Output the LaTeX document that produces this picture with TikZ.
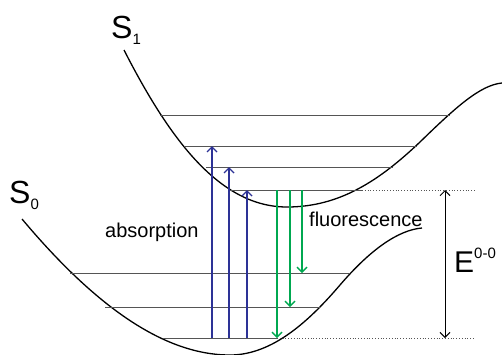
\documentclass[tikz,border=0pt]{standalone}
\usepackage{fontspec}
\setmainfont{Liberation Sans}
\usetikzlibrary{arrows.meta}
\definecolor{AbsBlue}{RGB}{45,50,150}
\definecolor{FluoGreen}{RGB}{0,168,80}
\definecolor{LevelGrey}{RGB}{85,85,85}

\begin{document}
\begin{tikzpicture}[x=1pt,y=-1pt,
    pes/.style={line width=1.3pt, black},
    level/.style={line width=0.9pt, LevelGrey},
    zerolevel/.style={line width=0.8pt, LevelGrey, dotted},
    absarrow/.style={line width=1.4pt, AbsBlue, -{Straight Barb[length=5pt,width=10pt]}},
    fluoarrow/.style={line width=1.4pt, FluoGreen, -{Straight Barb[length=5pt,width=10pt]}},
    gaparrow/.style={line width=1pt, black, {Straight Barb[length=5pt,width=10pt]}-{Straight Barb[length=5pt,width=10pt]}},
    lbl/.style={font=\fontsize{20}{24}\selectfont}]
    \useasboundingbox (0,0) rectangle (502,354);

    % potential energy curves
    \draw[pes] (124,50) .. controls (170,140) and (220,207) .. (287,207)
        .. controls (340,207) and (380,180) .. (420,142)
        .. controls (455,108) and (480,85) .. (502,83);
    \draw[pes] (22,219) .. controls (90,300) and (160,355) .. (230,355)
        .. controls (273,355) and (310,320) .. (340,285)
        .. controls (370,250) and (398,230) .. (422,228);

    % vibrational levels S1
    \draw[level] (160,115) -- (450,115);
    \draw[level] (184,146) -- (417,146);
    \draw[level] (206,167) -- (393,167);
    \draw[level] (230,190) -- (362,190);
    % vibrational levels S0
    \draw[level] (70,273) -- (350,273);
    \draw[level] (105,307) -- (320,307);
    \draw[level] (163,338) -- (277,338);
    \draw[zerolevel] (362,190) -- (475,190);
    \draw[zerolevel] (277,338) -- (475,338);

    % arrow end points
    \coordinate (a1) at (212,338);
    \coordinate (a1t) at (212,146);
    \coordinate (a2) at (229,338);
    \coordinate (a2t) at (229,167);
    \coordinate (a3) at (247,338);
    \coordinate (a3t) at (247,190);
    \coordinate (f1) at (277,190);
    \coordinate (f1t) at (277,338);
    \coordinate (f2) at (290,190);
    \coordinate (f2t) at (290,307);
    \coordinate (f3) at (302,190);
    \coordinate (f3t) at (302,273);
    \coordinate (e0) at (445,190);
    \coordinate (e1) at (445,338);

    \draw[absarrow] (a1) -- (a1t);
    \draw[absarrow] (a2) -- (a2t);
    \draw[absarrow] (a3) -- (a3t);
    \draw[fluoarrow] (f1) -- (f1t);
    \draw[fluoarrow] (f2) -- (f2t);
    \draw[fluoarrow] (f3) -- (f3t);
    \draw[gaparrow] (e0) -- (e1);

    % labels
    \node[anchor=base west, inner sep=0pt] (s1) at (111,38) {\fontsize{32}{36}\selectfont S\raisebox{-6pt}{\fontsize{15}{18}\selectfont 1}};
    \node[anchor=base west, inner sep=0pt] (s0) at (9,203) {\fontsize{32}{36}\selectfont S\raisebox{-6pt}{\fontsize{15}{18}\selectfont 0}};
    \node[lbl, anchor=base west, inner sep=0pt] (abs) at (105,237) {absorption};
    \node[lbl, anchor=base west, inner sep=0pt] (fluo) at (309,226) {fluorescence};
    \node[anchor=base west, inner sep=0pt] (e00) at (454,272) {\fontsize{30}{34}\selectfont E\raisebox{14pt}{\fontsize{15}{18}\selectfont 0-0}};
\end{tikzpicture}
\end{document}
